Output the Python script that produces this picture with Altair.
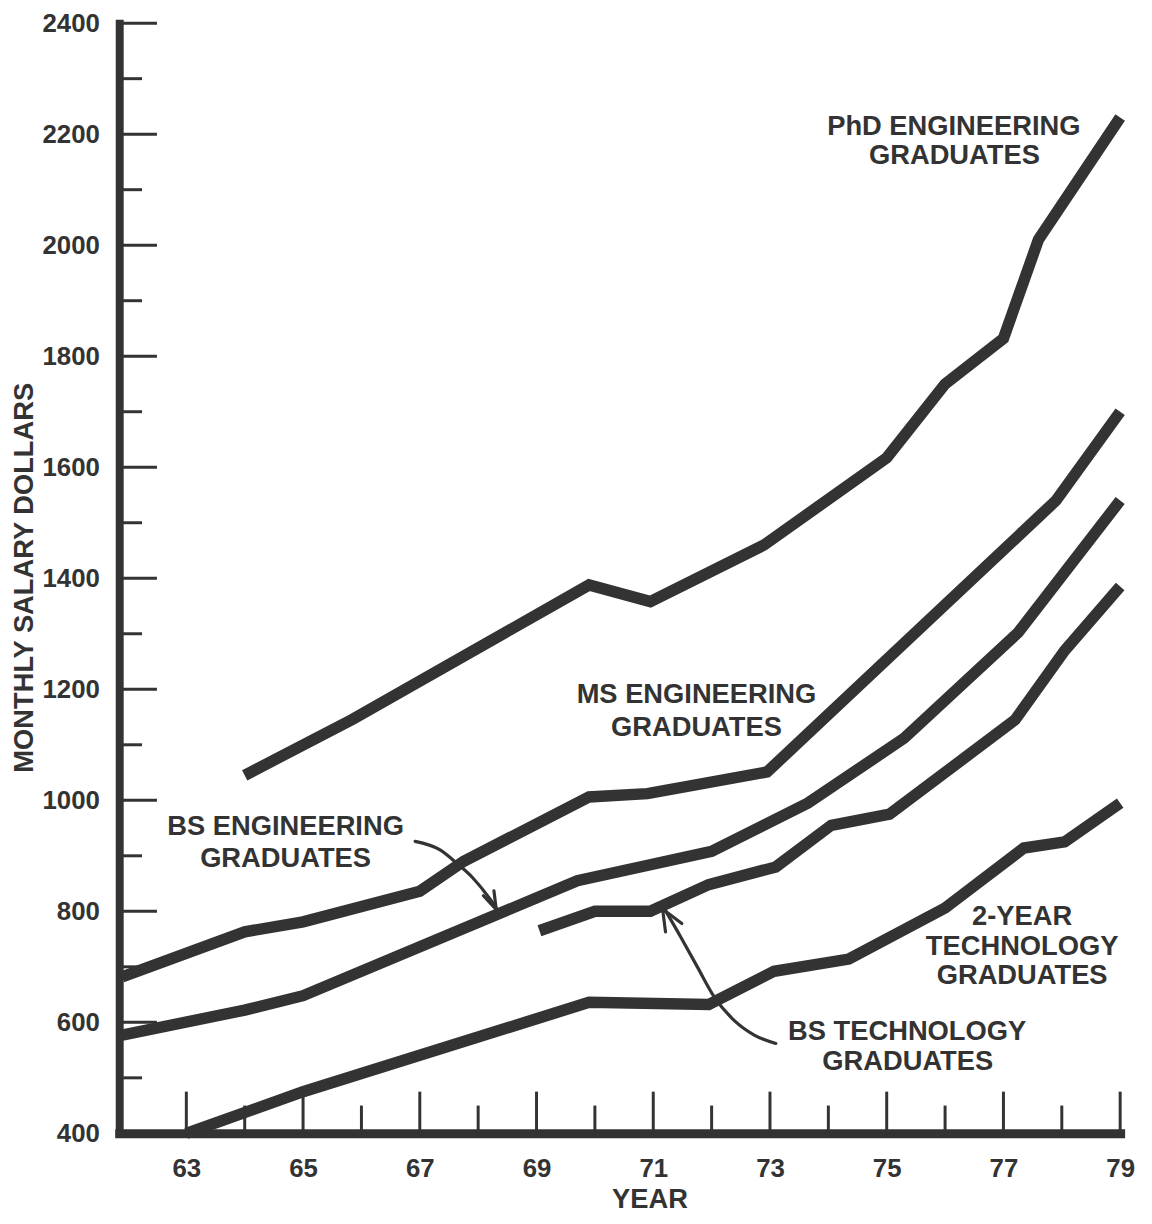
import altair as alt
import pandas as pd

FONT = "Liberation Sans"
INK = "#333333"

# ---------------- data ----------------
phd_years = [64, 65.85, 69.9, 70.95, 72.9, 75, 76, 77, 77.6, 79]
phd_salary = [1045, 1146, 1388, 1358, 1460, 1617, 1750, 1832, 2010, 2230]

ms_years = [61.9, 64, 65, 67, 67.75, 69.9, 70.9, 72.95, 77.9, 79]
ms_salary = [682, 763, 781, 836, 890, 1006, 1012, 1051, 1540, 1700]

bse_years = [61.9, 64, 65, 69.7, 72, 73.65, 75.3, 77.25, 79]
bse_salary = [577, 622, 648, 855, 908, 995, 1112, 1302, 1540]

bst_years = [69.05, 70, 70.95, 71.95, 73.1, 74.05, 75.05, 77.2, 78.05, 79]
bst_salary = [765, 800, 800, 848, 880, 955, 975, 1145, 1270, 1385]

two_years = [63, 65, 69.9, 71.95, 73.07, 74.35, 76, 77.35, 78.05, 79]
two_salary = [400, 475, 636, 632, 692, 714, 806, 914, 925, 995]

series_names = ["PhD Engineering", "MS Engineering", "BS Engineering",
                "BS Technology", "2-Year Technology"]

# axis values
y_labels = [400, 600, 800, 1000, 1200, 1400, 1600, 1800, 2000, 2200, 2400]
y_major_ticks = [600, 800, 1000, 1200, 1400, 1600, 1800, 2000, 2200, 2400]
y_minor_ticks = [500, 700, 900, 1100, 1300, 1500, 1700, 1900, 2100, 2300]
x_labels = [63, 65, 67, 69, 71, 73, 75, 77, 79]
x_major_ticks = [63, 65, 67, 69, 71, 73, 75, 77, 79]
x_minor_ticks = [64, 66, 68, 70, 72, 74, 76, 78]

# annotation text (one row per text line)
label_text = ["PhD ENGINEERING", "GRADUATES",
              "MS ENGINEERING", "GRADUATES",
              "BS ENGINEERING", "GRADUATES",
              "2-YEAR", "TECHNOLOGY", "GRADUATES",
              "BS TECHNOLOGY", "GRADUATES"]
label_year = [76.15, 76.16, 71.74, 71.74, 64.70, 64.70, 77.32, 77.32, 77.32, 75.35, 75.36]
label_salary = [2199, 2146, 1175, 1116, 938, 880, 775, 722, 669, 568, 514]

# pointer arrows
arrow1_year = [66.92, 67.34, 67.63, 67.91, 68.19, 68.31]
arrow1_salary = [926, 911, 887, 860, 824, 806]
arrow2_year = [71.20, 71.48, 71.76, 72.05, 72.39, 72.73, 73.10]
arrow2_salary = [803, 752, 699, 645, 603, 577, 562]
head1_year = [68.09, 68.31, 68.27]
head1_salary = [828, 803, 837]
head2_year = [71.21, 71.16, 71.49]
head2_salary = [763, 804, 778]

# ---------------- tables ----------------
rows = []
for name, ys, vs in zip(series_names,
                        [phd_years, ms_years, bse_years, bst_years, two_years],
                        [phd_salary, ms_salary, bse_salary, bst_salary, two_salary]):
    for i, (a, b) in enumerate(zip(ys, vs)):
        rows.append({"series": name, "idx": i, "year": a, "salary": b})
series_df = pd.DataFrame(rows)

arrow_rows = []
for name, ys, vs in [("a1", arrow1_year, arrow1_salary), ("a2", arrow2_year, arrow2_salary)]:
    for i, (a, b) in enumerate(zip(ys, vs)):
        arrow_rows.append({"arrow": name, "idx": i, "year": a, "salary": b})
arrow_df = pd.DataFrame(arrow_rows)

head_rows = []
for name, ys, vs in [("h1", head1_year, head1_salary), ("h2", head2_year, head2_salary)]:
    for i, (a, b) in enumerate(zip(ys, vs)):
        head_rows.append({"head": name, "idx": i, "year": a, "salary": b})
head_df = pd.DataFrame(head_rows)

label_df = pd.DataFrame({"text": label_text, "year": label_year, "salary": label_salary})

W, H = 1008, 1118

x_axis = alt.Axis(
    values=x_labels, format="d", ticks=False, tickSize=0, grid=False,
    labelFont=FONT, labelFontSize=26, labelFontWeight="bold", labelColor=INK,
    labelPadding=43, labelBaseline="alphabetic", labelFlush=False, labelOverlap=False,
    domainColor=INK, domainWidth=9, domainCap="square",
    title="YEAR", titleFont=FONT, titleFontSize=27.5, titleFontWeight="bold",
    titleColor=INK, titleX=534, titleY=75, titleAlign="center",
    titleBaseline="alphabetic", titleAnchor="middle",
)
y_axis = alt.Axis(
    values=y_labels, format="d", ticks=False, tickSize=0, grid=False,
    labelFont=FONT, labelFontSize=26, labelFontWeight="bold", labelColor=INK,
    labelPadding=20, labelBaseline="middle", labelAlign="right",
    labelFlush=False, labelOverlap=False,
    domainColor=INK, domainWidth=8, domainCap="square",
    title="MONTHLY SALARY DOLLARS", titleFont=FONT, titleFontSize=27.5,
    titleFontWeight="bold", titleColor=INK, titleAngle=270,
    titleX=-87, titleY=558, titleAlign="center", titleBaseline="alphabetic",
)

X_ENC = alt.X("year:Q", scale=alt.Scale(domain=[61.85, 79], nice=False, zero=False),
              axis=x_axis)
Y_ENC = alt.Y("salary:Q", scale=alt.Scale(domain=[400, 2400], nice=False, zero=False),
              axis=y_axis)

ytick_major = alt.Chart(pd.DataFrame({"salary": y_major_ticks})).mark_rule(
    color=INK, strokeWidth=3).encode(y=Y_ENC, x=alt.value(0), x2=alt.value(38))
ytick_minor = alt.Chart(pd.DataFrame({"salary": y_minor_ticks})).mark_rule(
    color=INK, strokeWidth=3).encode(y=Y_ENC, x=alt.value(0), x2=alt.value(23))
xtick_major = alt.Chart(pd.DataFrame({"year": x_major_ticks})).mark_rule(
    color=INK, strokeWidth=3).encode(x=X_ENC, y=alt.value(H), y2=alt.value(H - 42))
xtick_minor = alt.Chart(pd.DataFrame({"year": x_minor_ticks})).mark_rule(
    color=INK, strokeWidth=3).encode(x=X_ENC, y=alt.value(H), y2=alt.value(H - 28))

lines = alt.Chart(series_df).mark_line(
    color=INK, strokeWidth=11.5, strokeJoin="miter", strokeCap="butt"
).encode(x=X_ENC, y=Y_ENC, detail="series:N", order="idx:Q")

arrows = alt.Chart(arrow_df).mark_line(
    color=INK, strokeWidth=3.2, interpolate="monotone", strokeCap="round"
).encode(x=X_ENC, y=Y_ENC, detail="arrow:N", order="idx:Q")

heads = alt.Chart(head_df).mark_line(
    color=INK, strokeWidth=3.2, strokeJoin="miter", strokeCap="round"
).encode(x=X_ENC, y=Y_ENC, detail="head:N", order="idx:Q")

labels = alt.Chart(label_df).mark_text(
    font=FONT, fontSize=27.5, fontWeight="bold", color=INK,
    align="center", baseline="alphabetic"
).encode(x=X_ENC, y=Y_ENC, text="text:N")

chart = alt.layer(
    xtick_major, xtick_minor, ytick_major, ytick_minor, lines, arrows, heads, labels
).properties(
    width=W, height=H,
    autosize=alt.AutoSizeParams(type="none"),
    padding={"left": 112, "top": 11, "right": 24, "bottom": 84},
    background="white",
).configure_view(stroke=None)

chart.save("out.html", embed_options={"renderer": "svg", "actions": False})
